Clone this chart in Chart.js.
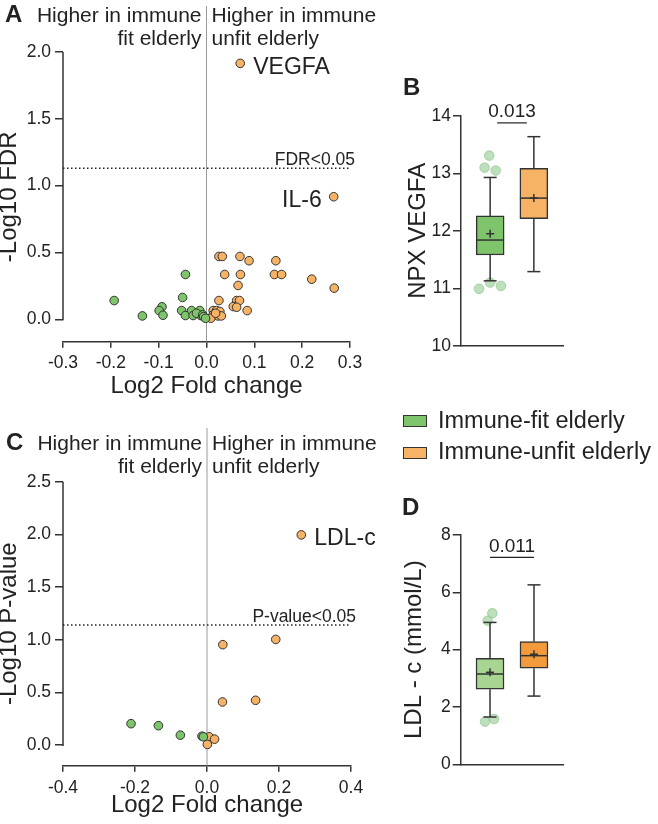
<!DOCTYPE html>
<html>
<head>
<meta charset="utf-8">
<script src="https://cdn.jsdelivr.net/npm/chart.js@4.4.1/dist/chart.umd.min.js"></script>
<style>
  body { margin: 0; background: #fff; width: 658px; height: 824px; position: relative; overflow: hidden;
         font-family: 'Liberation Sans', Arial, sans-serif; color: #222; }
  canvas { position: absolute; }
  .letter { position: absolute; font-weight: bold; font-size: 24px; line-height: 24px; }
  .lg { position: absolute; font-size: 23.5px; line-height: 23.5px; white-space: nowrap; }
  .sw { position: absolute; width: 22px; height: 10px; border: 1px solid #333; }
</style>
</head>
<body>
<canvas id="chartA" width="380" height="402" style="left:0;top:0"></canvas>
<canvas id="chartB" width="268" height="270" style="left:390px;top:90px"></canvas>
<canvas id="chartC" width="380" height="404" style="left:0;top:420px"></canvas>
<canvas id="chartD" width="268" height="270" style="left:390px;top:510px"></canvas>

<div class="letter" style="left:5px;top:1.5px">A</div>
<div class="letter" style="left:403px;top:74.5px">B</div>
<div class="letter" style="left:6px;top:429.5px">C</div>
<div class="letter" style="left:402px;top:494.5px">D</div>

<div class="sw" style="left:403px;top:415px;background:#7dc46a"></div>
<div class="lg" style="left:438px;top:408.5px">Immune-fit elderly</div>
<div class="sw" style="left:403px;top:447px;background:#f7b365"></div>
<div class="lg" style="left:438px;top:440px">Immune-unfit elderly</div>

<script>
// ---- data ----
// A: -log10 FDR volcano (Olink proteins)
const fdrFitX = [-0.193, -0.134, -0.093, -0.099, -0.091, -0.044, -0.050, -0.052, -0.044, -0.031, -0.028, -0.014, -0.012, -0.021, -0.008, -0.006, -0.002];
const fdrFitY = [0.14, 0.025, 0.093, 0.065, 0.03, 0.335, 0.163, 0.065, 0.028, 0.065, 0.028, 0.065, 0.028, 0.045, 0.033, 0.02, 0.007];
const fdrUnfitX = [0.026, 0.033, 0.070, 0.089, 0.145, 0.038, 0.071, 0.142, 0.157, 0.220, 0.267, 0.066, 0.026, 0.063, 0.069, 0.056, 0.063, 0.085, 0.014, 0.021, 0.028, 0.014, 0.024, 0.031, 0.009, 0.019];
const fdrUnfitY = [0.47, 0.47, 0.47, 0.438, 0.438, 0.335, 0.335, 0.335, 0.335, 0.30, 0.233, 0.253, 0.14, 0.14, 0.14, 0.095, 0.09, 0.065, 0.065, 0.065, 0.058, 0.033, 0.025, 0.025, 0.008, 0.045];
const fdrNamed = ['VEGFA', 'IL-6'];
const fdrNamedX = [0.0705, 0.266];
const fdrNamedY = [1.915, 0.917];
const fdrCutoff = 1.13;

// C: -log10 P-value volcano (clinical parameters)
const pFitX = [-0.211, -0.135, -0.074, -0.014, -0.010];
const pFitY = [0.203, 0.184, 0.094, 0.084, 0.078];
const pUnfitX = [0.044, 0.191, 0.043, 0.135, 0.006, 0.021, 0.001];
const pUnfitY = [0.953, 1.003, 0.409, 0.425, 0.078, 0.056, 0.006];
const pNamed = ['LDL-c'];
const pNamedX = [0.262];
const pNamedY = [1.995];
const pCutoff = 1.14;

// B: NPX VEGFA box plots  [fit, unfit]
const groups = ['Immune-fit elderly', 'Immune-unfit elderly'];
const vegfaMin = [11.13, 11.29];
const vegfaQ1 = [11.58, 12.21];
const vegfaMedian = [11.84, 12.57];
const vegfaQ3 = [12.26, 13.09];
const vegfaMax = [12.93, 13.64];
const vegfaMean = [11.95, 12.57];
const vegfaOutliers = [13.31, 13.10, 13.05, 10.99, 11.10, 11.04];
const vegfaJitter = [-0.03, -0.19, 0.19, -0.38, 0.0, 0.37];
const vegfaP = '0.013';

// D: LDL-c box plots  [fit, unfit]
const ldlMin = [1.65, 2.38];
const ldlQ1 = [2.62, 3.35];
const ldlMedian = [3.15, 3.79];
const ldlQ3 = [3.70, 4.28];
const ldlMax = [4.95, 6.26];
const ldlMean = [3.21, 3.84];
const ldlOutliers = [5.27, 5.01, 1.49, 1.58];
const ldlJitter = [0.08, -0.08, -0.17, 0.14];
const ldlP = '0.011';

// ---- styling ----
Chart.defaults.font.family = "'Liberation Sans', Arial, sans-serif";
Chart.defaults.color = '#222';
const FONT = "'Liberation Sans', Arial, sans-serif";
const AXIS = '#333';
const GREEN = '#7dc46a', ORANGE = '#f7b365';
const boxSlots = [1, 2.5];

const pts = (xs, ys) => xs.map((v, i) => ({x: v, y: ys[i]}));
const fmt1 = v => (Math.abs(v) < 1e-9 ? '0.0' : v.toFixed(1));

// decorations for the volcano plots
const volcanoDeco = {
  id: 'volcanoDeco',
  beforeDatasetsDraw(chart, args, o) {
    const {ctx, chartArea: a, scales: {x, y}} = chart;
    const x0 = x.getPixelForValue(0);
    ctx.save();
    ctx.strokeStyle = '#999';
    ctx.lineWidth = 1;
    ctx.beginPath();
    ctx.moveTo(x0, o.lineTop);
    ctx.lineTo(x0, a.bottom);
    ctx.stroke();
    // y axis line only from 0 to max
    ctx.strokeStyle = AXIS;
    ctx.lineWidth = 1.5;
    ctx.beginPath();
    ctx.moveTo(a.left, y.getPixelForValue(0) + 1);
    ctx.lineTo(a.left, y.getPixelForValue(y.max));
    ctx.stroke();
    // threshold
    const yc = y.getPixelForValue(o.cutoff);
    ctx.strokeStyle = '#222';
    ctx.setLineDash([1.5, 2.5]);
    ctx.beginPath();
    ctx.moveTo(a.left, yc);
    ctx.lineTo(a.right, yc);
    ctx.stroke();
    ctx.restore();
  },
  afterDatasetsDraw(chart, args, o) {
    const {ctx, chartArea: a, scales: {x, y}} = chart;
    const x0 = x.getPixelForValue(0);
    const yc = y.getPixelForValue(o.cutoff);
    ctx.save();
    ctx.fillStyle = '#222';
    ctx.textBaseline = 'alphabetic';
    ctx.font = '21px ' + FONT;
    ctx.textAlign = 'right';
    ctx.fillText('Higher in immune', x0 - 5, o.headBase);
    ctx.fillText('fit elderly', x0 - 5, o.headBase + 23.3);
    ctx.textAlign = 'left';
    ctx.fillText('Higher in immune', x0 + 5, o.headBase);
    ctx.fillText('unfit elderly', x0 + 5, o.headBase + 23.3);
    ctx.font = '17.5px ' + FONT;
    ctx.textAlign = 'right';
    ctx.fillText(o.cutoffText, a.right + 5, yc - 3);
    ctx.font = '23px ' + FONT;
    ctx.textBaseline = 'middle';
    o.names.forEach((n, i) => {
      const px = x.getPixelForValue(o.nx[i]), py = y.getPixelForValue(o.ny[i]);
      ctx.textAlign = o.side[i] === 'left' ? 'right' : 'left';
      ctx.fillText(n, px + (o.side[i] === 'left' ? -12 : 13), py + 4);
    });
    ctx.restore();
  }
};

function volcano(id, fitX, fitY, unfitX, unfitY, nX, nY, o) {
  const dot = {pointRadius: 4.3, pointHoverRadius: 4.3, borderColor: '#333', borderWidth: 1};
  return new Chart(document.getElementById(id), {
    type: 'scatter',
    data: {
      datasets: [
        Object.assign({label: groups[0], data: pts(fitX, fitY), backgroundColor: GREEN}, dot),
        Object.assign({label: groups[1], data: pts(unfitX, unfitY).concat(pts(nX, nY)), backgroundColor: ORANGE}, dot)
      ]
    },
    options: {
      responsive: false,
      animation: false,
      layout: {padding: o.padding},
      plugins: {legend: {display: false}, tooltip: {enabled: false}, volcanoDeco: o.deco},
      scales: {
        x: {
          min: o.xMin, max: o.xMax,
          ticks: {stepSize: o.xStep, font: {size: 17.5}, color: '#222', padding: o.xPad, callback: fmt1},
          grid: {display: true, drawOnChartArea: false, tickLength: 6, color: AXIS, lineWidth: 1.5},
          border: {display: true, color: AXIS, width: 1.5},
          title: {display: true, text: 'Log2 Fold change', font: {size: 24}, color: '#222', padding: {top: 0, bottom: o.xTitlePad}},
          afterFit: s => { s.height = o.xHeight; }
        },
        y: {
          min: o.yMin, max: o.yMax,
          ticks: {stepSize: 0.5, font: {size: 17.5}, color: '#222', padding: 4, callback: fmt1},
          afterBuildTicks: s => { s.ticks = s.ticks.filter(t => t.value > -1e-9); },
          grid: {display: true, drawOnChartArea: false, tickLength: 8, color: AXIS, lineWidth: 1.5},
          border: {display: false},
          title: {display: true, text: o.yTitle, font: {size: 24}, color: '#222', padding: {top: -5, bottom: 0}},
          afterFit: s => { s.width = 63; }
        }
      }
    },
    plugins: [volcanoDeco]
  });
}

volcano('chartA', fdrFitX, fdrFitY, fdrUnfitX, fdrUnfitY, fdrNamedX, fdrNamedY, {
  padding: {top: 52, right: 30, left: 0, bottom: 0},
  xMin: -0.3, xMax: 0.3, xStep: 0.1, xPad: 5, xTitlePad: 1, xHeight: 60.3,
  yMin: -0.168, yMax: 2.0, yTitle: '-Log10 FDR',
  deco: {lineTop: 6, headBase: 21.7, cutoff: fdrCutoff, cutoffText: 'FDR<0.05',
         names: fdrNamed, nx: fdrNamedX, ny: fdrNamedY, side: ['right', 'left']}
});

volcano('chartC', pFitX, pFitY, pUnfitX, pUnfitY, pNamedX, pNamedY, {
  padding: {top: 61.7, right: 29, left: 0, bottom: 0},
  xMin: -0.4, xMax: 0.4, xStep: 0.2, xPad: 6, xTitlePad: 4.6, xHeight: 58.3,
  yMin: -0.196, yMax: 2.5, yTitle: '-Log10 P-value',
  deco: {lineTop: 8, headBase: 30, cutoff: pCutoff, cutoffText: 'P-value<0.05',
         names: pNamed, nx: pNamedX, ny: pNamedY, side: ['right']}
});

// decorations for box plots: whiskers, median, mean, significance bar
const boxDeco = {
  id: 'boxDeco',
  afterDatasetsDraw(chart, args, o) {
    const {ctx, scales: {x, y}} = chart;
    ctx.save();
    ctx.strokeStyle = '#333';
    ctx.lineWidth = 1.5;
    boxSlots.forEach((slot, i) => {
      const cx = x.getPixelForValue(slot);
      const line = (x1, y1, x2, y2) => { ctx.beginPath(); ctx.moveTo(x1, y1); ctx.lineTo(x2, y2); ctx.stroke(); };
      const q1 = y.getPixelForValue(o.q1[i]), q3 = y.getPixelForValue(o.q3[i]);
      const lo = y.getPixelForValue(o.min[i]), hi = y.getPixelForValue(o.max[i]);
      line(cx, q3, cx, hi); line(cx - 6.5, hi, cx + 6.5, hi);
      line(cx, q1, cx, lo); line(cx - 6.5, lo, cx + 6.5, lo);
      const md = y.getPixelForValue(o.median[i]);
      line(cx - 14, md, cx + 14, md);
      const mn = y.getPixelForValue(o.mean[i]);
      line(cx - 4, mn, cx + 4, mn); line(cx, mn - 4, cx, mn + 4);
    });
    const ys = y.getPixelForValue(o.sigY);
    ctx.strokeStyle = '#222';
    ctx.lineWidth = 1.2;
    ctx.beginPath();
    ctx.moveTo(x.getPixelForValue(boxSlots[0]) + o.sigInset, ys);
    ctx.lineTo(x.getPixelForValue(boxSlots[1]) - o.sigInset, ys);
    ctx.stroke();
    ctx.fillStyle = '#222';
    ctx.font = '19px ' + FONT;
    ctx.textAlign = 'center';
    ctx.textBaseline = 'alphabetic';
    ctx.fillText(o.p, (x.getPixelForValue(boxSlots[0]) + x.getPixelForValue(boxSlots[1])) / 2, ys - 5.5);
    ctx.restore();
  }
};

function boxChart(id, s, o) {
  return new Chart(document.getElementById(id), {
    type: 'bar',
    data: {
      datasets: [
        {
          type: 'scatter',
          label: 'outliers',
          data: s.outliers.map((v, i) => ({x: boxSlots[0] + s.jitter[i], y: v})),
          backgroundColor: 'rgba(160,210,160,0.7)',
          borderColor: 'rgba(130,190,130,0.6)',
          borderWidth: 1,
          pointRadius: 4.8,
          order: 0
        },
        {
          label: 'IQR',
          data: boxSlots.map((p, i) => ({x: p, y: [s.q1[i], s.q3[i]]})),
          backgroundColor: o.colors,
          borderColor: '#333',
          borderWidth: 1.5,
          borderSkipped: false,
          barThickness: 28,
          order: 1
        }
      ]
    },
    options: {
      responsive: false,
      animation: false,
      layout: {padding: o.padding},
      plugins: {legend: {display: false}, tooltip: {enabled: false},
                boxDeco: Object.assign({}, s, {sigY: o.sigY, sigInset: o.sigInset})},
      scales: {
        x: {
          type: 'linear', min: 0, max: 3.5, offset: false,
          ticks: {display: false},
          grid: {display: false, offset: false},
          border: {display: true, color: AXIS, width: 1.5},
          afterFit: sc => { sc.height = 0; }
        },
        y: {
          min: o.yMin, max: o.yMax,
          ticks: {stepSize: o.yStep, font: {size: 17.5}, color: '#222', padding: 2},
          grid: {display: true, drawOnChartArea: false, tickLength: 8, color: AXIS, lineWidth: 1.5},
          border: {display: true, color: AXIS, width: 1.5},
          title: {display: true, text: o.yTitle, font: {size: 24}, color: '#222', padding: {top: o.titlePad, bottom: 0}},
          afterFit: sc => { sc.width = o.yWidth; }
        }
      }
    },
    plugins: [boxDeco]
  });
}

boxChart('chartB', {
  min: vegfaMin, q1: vegfaQ1, median: vegfaMedian, q3: vegfaQ3, max: vegfaMax, mean: vegfaMean,
  outliers: vegfaOutliers, jitter: vegfaJitter, p: vegfaP
}, {
  colors: [GREEN, ORANGE],
  padding: {top: 26, right: 95, left: 0, bottom: 14.3},
  yMin: 10, yMax: 14, yStep: 1, yWidth: 71, titlePad: 13.6,
  yTitle: 'NPX VEGFA', sigY: 13.88, sigInset: 7
});

boxChart('chartD', {
  min: ldlMin, q1: ldlQ1, median: ldlMedian, q3: ldlQ3, max: ldlMax, mean: ldlMean,
  outliers: ldlOutliers, jitter: ldlJitter, p: ldlP
}, {
  colors: ['#a8d591', '#f39b3c'],
  padding: {top: 25, right: 94.7, left: 0, bottom: 15.7},
  yMin: 0, yMax: 8, yStep: 2, yWidth: 70.7, titlePad: 9.6,
  yTitle: 'LDL - c (mmol/L)', sigY: 7.22, sigInset: 0
});
</script>
</body>
</html>
